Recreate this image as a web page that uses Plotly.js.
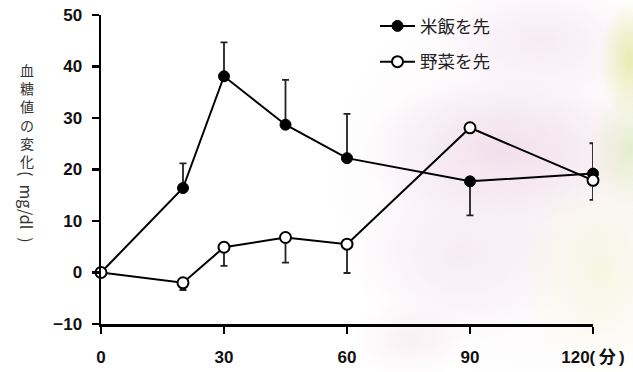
<!DOCTYPE html>
<html>
<head>
<meta charset="utf-8">
<script src="https://cdn.plot.ly/plotly-3.0.1.min.js"></script>
<style>
  html, body { margin: 0; padding: 0; background: #ffffff; }
  #chart {
    width: 633px; height: 372px;
    background:
      radial-gradient(ellipse 30px 60px at 630px 60px, rgba(226,230,150,0.75), rgba(226,230,150,0) 100%),
      radial-gradient(ellipse 40px 60px at 630px 150px, rgba(215,232,175,0.6), rgba(215,232,175,0) 100%),
      radial-gradient(ellipse 140px 75px at 500px 150px, rgba(240,218,232,0.8), rgba(240,218,232,0) 100%),
      radial-gradient(ellipse 110px 60px at 540px 40px, rgba(245,228,238,0.7), rgba(245,228,238,0) 100%),
      radial-gradient(ellipse 110px 90px at 460px 255px, rgba(245,230,240,0.7), rgba(245,230,240,0) 100%),
      radial-gradient(ellipse 80px 110px at 600px 270px, rgba(246,246,222,0.8), rgba(246,246,222,0) 100%),
      radial-gradient(ellipse 60px 40px at 410px 340px, rgba(245,225,232,0.5), rgba(245,225,232,0) 100%),
      radial-gradient(ellipse 220px 210px at 540px 180px, rgba(248,238,244,0.75), rgba(248,238,244,0) 100%),
      #ffffff;
  }
</style>
</head>
<body>
<div id="chart"></div>
<script>
// Time after the meal (minutes)
const minutes = [0, 20, 30, 45, 60, 90, 120];

// Change in blood glucose (mg/dl): rice eaten first
const riceFirst = [0, 16.4, 38.1, 28.7, 22.2, 17.7, 19.2];
const riceFirstErrUp = [0, 4.8, 6.6, 8.7, 8.6, 0, 5.9];
const riceFirstErrDown = [0, 0, 0, 0, 0, 6.6, 0];

// Change in blood glucose (mg/dl): vegetables eaten first
const vegFirst = [0, -2.0, 4.9, 6.8, 5.5, 28.1, 17.9];
const vegFirstErrUp = [0, 0, 0, 0, 0, 0, 0];
const vegFirstErrDown = [0, 1.4, 3.6, 4.9, 5.6, 0, 3.8];

const seriesNames = ['米飯を先', '野菜を先'];
const xTickVals = [0, 30, 60, 90, 120];
const xTickText = ['0', '30', '60', '90', '120(\u2009分\u2009)'];
const yTitleChars = ['血', '糖', '値', 'の', '変', '化'];
const yTitleUnit = '(\u2002mg/dl\u2002)';

const W = 633, H = 372;
const M = {l: 101, r: 40, t: 15, b: 48, autoexpand: false};
const plotW = W - M.l - M.r, plotH = H - M.t - M.b;
const paperX = px => (px - M.l) / plotW;
const paperY = py => (H - M.b - py) / plotH;

const cjk = '"Noto Sans CJK JP", "Noto Sans", sans-serif';
const num = '"Liberation Sans", Arial, "Noto Sans CJK JP", sans-serif';

function errBars(up, down) {
  return {
    type: 'data', symmetric: false, array: up, arrayminus: down,
    color: '#222222', thickness: 1.8, width: 3.5
  };
}

const traces = [
  {
    x: minutes, y: riceFirst, name: seriesNames[0], legendgroup: 'a',
    type: 'scatter', mode: 'lines+markers', cliponaxis: false,
    line: {color: '#000000', width: 2},
    marker: {symbol: 'circle', size: 11, color: '#000000', line: {color: '#000000', width: 1}},
    error_y: errBars(riceFirstErrUp, riceFirstErrDown)
  },
  {
    x: minutes, y: vegFirst, name: seriesNames[1], legendgroup: 'b',
    type: 'scatter', mode: 'lines+markers', cliponaxis: false,
    line: {color: '#000000', width: 2},
    marker: {symbol: 'circle', size: 11, color: '#ffffff', line: {color: '#000000', width: 2}},
    error_y: errBars(vegFirstErrUp, vegFirstErrDown)
  }
];

// Vertical axis title: upright characters stacked in one block, unit rotated below
const annotations = [
  {
    text: yTitleChars.join('<br>'), xref: 'paper', yref: 'paper',
    x: paperX(27), y: paperY(58), xanchor: 'center', yanchor: 'top',
    showarrow: false, font: {family: cjk, size: 14, color: '#333333'}
  },
  {
    text: yTitleUnit, xref: 'paper', yref: 'paper', textangle: 90,
    x: paperX(27), y: paperY(207), xanchor: 'center', yanchor: 'middle',
    showarrow: false, font: {family: cjk, size: 16, color: '#333333'}
  }
];

const layout = {
  width: W, height: H,
  margin: M,
  paper_bgcolor: 'rgba(0,0,0,0)',
  plot_bgcolor: 'rgba(0,0,0,0)',
  showlegend: true,
  legend: {
    x: paperX(375), y: paperY(8), xanchor: 'left', yanchor: 'top',
    bgcolor: 'rgba(0,0,0,0)', tracegroupgap: 10, itemwidth: 35,
    font: {family: cjk, size: 17.5, color: '#222222'}
  },
  xaxis: {
    range: [0, 120], tickvals: xTickVals, ticktext: xTickText,
    showline: true, linecolor: '#000000', linewidth: 2.5,
    ticks: 'outside', ticklen: 7, tickwidth: 2.5, tickcolor: '#000000',
    ticklabelstandoff: 9,
    showgrid: false, zeroline: false, fixedrange: true,
    tickfont: {family: num, size: 17, color: '#111111', weight: 'bold'}
  },
  yaxis: {
    range: [-10, 50], dtick: 10, tick0: 0,
    showline: true, linecolor: '#000000', linewidth: 2.5,
    ticks: 'outside', ticklen: 7, tickwidth: 2.5, tickcolor: '#000000',
    ticklabelstandoff: 6,
    showgrid: false, zeroline: false, fixedrange: true,
    tickfont: {family: num, size: 17, color: '#111111', weight: 'bold'}
  },
  annotations: annotations
};

Plotly.newPlot('chart', traces, layout, {displayModeBar: false, staticPlot: true});
</script>
</body>
</html>
